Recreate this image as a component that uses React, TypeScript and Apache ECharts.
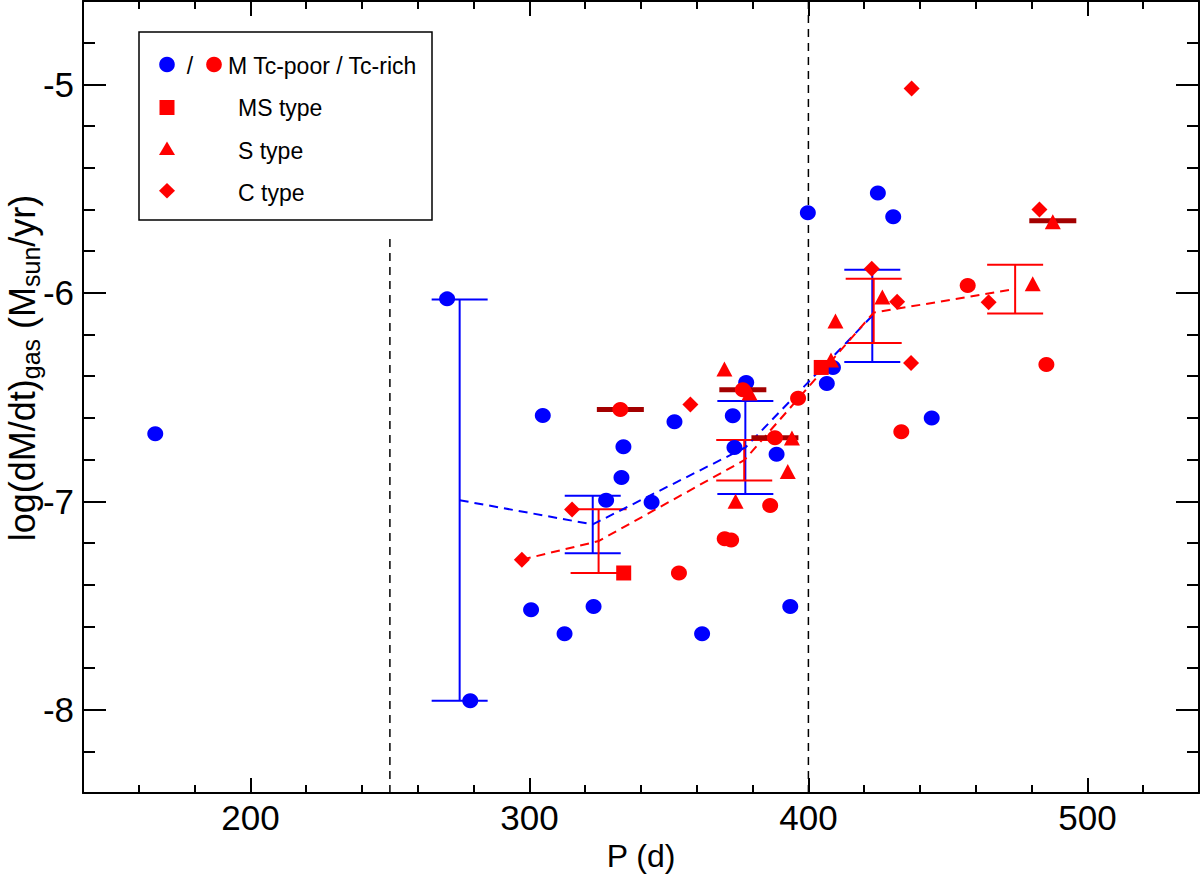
import React, { useEffect, useRef } from "react";
import * as echarts from "echarts";

const FONT = "'Liberation Sans', Arial, Helvetica, sans-serif";

// axis ticks
const X_MAJOR = [200, 300, 400, 500];
const X_MINOR = [160, 180, 220, 240, 260, 280, 320, 340, 360, 380, 420, 440, 460, 480, 520];
const Y_MAJOR = [-8, -7, -6, -5];
const Y_MINOR = [-8.2, -7.8, -7.6, -7.4, -7.2, -6.8, -6.6, -6.4, -6.2, -5.8, -5.6, -5.4, -5.2, -4.8];

// M Tc-poor (blue circles)
const TC_POOR: number[][] = [
  [165.9, -6.676], [270.5, -6.029], [278.8, -7.957], [300.6, -7.52], [304.8, -6.589],
  [312.6, -7.635], [323.0, -7.505], [327.5, -6.995], [333.0, -6.886], [333.7, -6.738],
  [343.8, -7.005], [352.0, -6.619], [361.9, -7.635], [372.9, -6.59], [373.5, -6.742],
  [377.7, -6.43], [388.6, -6.774], [393.5, -7.505], [399.8, -5.616], [406.6, -6.435],
  [408.8, -6.358], [424.9, -5.521], [430.4, -5.635], [444.2, -6.6],
];
// M Tc-rich (red circles)
const TC_RICH: number[][] = [
  [332.6, -6.56], [353.6, -7.344], [370.0, -7.18], [372.3, -7.186], [376.5, -6.465],
  [386.3, -7.02], [388.0, -6.695], [396.3, -6.506], [433.3, -6.667], [457.1, -5.965],
  [485.3, -6.344],
];
const MS_TYPE: number[][] = [[333.8, -7.344], [404.6, -6.358]];
const S_TYPE: number[][] = [
  [369.9, -6.365], [373.9, -7.0], [378.9, -6.48], [392.6, -6.857], [394.1, -6.696],
  [408.1, -6.322], [409.7, -6.135], [426.5, -6.02], [480.4, -5.957], [487.6, -5.659],
];
const C_TYPE: number[][] = [
  [297.3, -7.28], [315.3, -7.04], [357.7, -6.536], [422.7, -5.884], [431.8, -6.043],
  [436.8, -6.337], [437.0, -5.02], [464.6, -6.045], [482.8, -5.6],
];
// dark red dashes marking particular stars
const DARK_MARKS: number[][] = [[332.6, -6.56], [376.5, -6.465], [388.0, -6.695], [487.6, -5.654]];

// binned means with error bars: [P, low, high]
const ERR_BLUE: number[][] = [
  [275.0, -7.957, -6.032], [322.7, -7.249, -6.973], [377.4, -6.965, -6.519], [422.9, -6.332, -5.889],
];
const ERR_RED: number[][] = [
  [324.8, -7.344, -7.038], [377.0, -6.9, -6.706], [423.4, -6.241, -5.932], [474.1, -6.099, -5.865],
];
const MEAN_BLUE: number[][] = [[275.0, -6.995], [322.7, -7.111], [377.4, -6.742], [422.9, -6.11]];
const MEAN_RED: number[][] = [[297.3, -7.28], [324.8, -7.191], [377.0, -6.803], [423.4, -6.095], [474.1, -5.982]];

// vertical dashed guide lines
const VLINE_250: number[][] = [[250, -8.4], [250, -5.72]];
const VLINE_400: number[][] = [[400, -8.4], [400, -4.6]];

const BLUE = "#0000ff";
const RED = "#ff0000";
const DARK = "#a30000";

function errRender(color: string) {
  const CAP = 28;
  return (params: any, api: any) => {
    const x = api.value(0);
    const lo = api.value(1);
    const hi = api.value(2);
    const a = api.coord([x, lo]);
    const b = api.coord([x, hi]);
    const st = { stroke: color, lineWidth: 2 };
    return {
      type: "group",
      children: [
        { type: "line", shape: { x1: a[0], y1: a[1], x2: b[0], y2: b[1] }, style: st },
        { type: "line", shape: { x1: a[0] - CAP, y1: a[1], x2: a[0] + CAP, y2: a[1] }, style: st },
        { type: "line", shape: { x1: b[0] - CAP, y1: b[1], x2: b[0] + CAP, y2: b[1] }, style: st },
      ],
    };
  };
}

function xAx(position: string, ticks: number[], len: number, main: boolean) {
  const ax: any = {
    type: "value",
    min: 140,
    max: 540,
    position,
    axisLine: { show: main, onZero: false, lineStyle: { color: "#000", width: 2 } },
    axisTick: { show: true, inside: true, length: len, customValues: ticks, lineStyle: { color: "#000", width: 2 } },
    axisLabel: { show: false },
    splitLine: { show: false },
  };
  return ax;
}
function yAx(position: string, ticks: number[], len: number, main: boolean) {
  const ax: any = {
    type: "value",
    min: -8.4,
    max: -4.6,
    position,
    axisLine: { show: main, onZero: false, lineStyle: { color: "#000", width: 2 } },
    axisTick: { show: true, inside: true, length: len, customValues: ticks, lineStyle: { color: "#000", width: 2 } },
    axisLabel: { show: false },
    splitLine: { show: false },
  };
  return ax;
}

export default function App() {
  const ref = useRef<HTMLDivElement>(null);
  useEffect(() => {
    const chart = echarts.init(ref.current as HTMLDivElement, null, { renderer: "svg" });

    const xMain = xAx("bottom", X_MAJOR, 15, true);
    xMain.axisLabel = { show: true, customValues: X_MAJOR, fontSize: 35, color: "#000", fontFamily: FONT, margin: 7 };
    xMain.name = "P (d)";
    xMain.nameLocation = "middle";
    xMain.nameGap = 59;
    xMain.nameTextStyle = { fontSize: 32, color: "#000", fontFamily: FONT, verticalAlign: "middle" };

    const yMain = yAx("left", Y_MAJOR, 23, true);
    yMain.axisLabel = { show: true, customValues: Y_MAJOR, fontSize: 35, color: "#000", fontFamily: FONT, margin: 9 };

    const sym = (name: string, data: number[][], symbol: string, size: any, color: string, z: number) => ({
      name,
      type: "scatter",
      data,
      symbol,
      symbolSize: size,
      itemStyle: { color, opacity: 1 },
      z,
      silent: true,
    });

    const option: any = {
      animation: false,
      backgroundColor: "#fff",
      grid: { left: 83, right: 1, top: 1, bottom: 79, containLabel: false },
      xAxis: [
        xMain,
        xAx("bottom", X_MINOR, 8, false),
        xAx("top", X_MAJOR, 15, true),
        xAx("top", X_MINOR, 8, false),
      ],
      yAxis: [
        yMain,
        yAx("left", Y_MINOR, 12, false),
        yAx("right", Y_MAJOR, 23, true),
        yAx("right", Y_MINOR, 12, false),
      ],
      series: [
        {
          type: "line", data: VLINE_250, symbol: "none", silent: true, z: 1,
          lineStyle: { color: "#000", width: 1.5, type: [8, 6] },
        },
        {
          type: "line", data: VLINE_400, symbol: "none", silent: true, z: 1,
          lineStyle: { color: "#000", width: 1.5, type: [8, 6] },
        },
        {
          type: "line", data: MEAN_BLUE, symbol: "none", silent: true, z: 2,
          lineStyle: { color: BLUE, width: 2, type: [9, 6] },
        },
        {
          type: "line", data: MEAN_RED, symbol: "none", silent: true, z: 2,
          lineStyle: { color: RED, width: 2, type: [9, 6] },
        },
        { type: "custom", data: ERR_BLUE, renderItem: errRender(BLUE), encode: { x: 0, y: [1, 2] }, z: 2, silent: true },
        { type: "custom", data: ERR_RED, renderItem: errRender(RED), encode: { x: 0, y: [1, 2] }, z: 2, silent: true },
        sym("Tc-poor", TC_POOR, "circle", [16, 15], BLUE, 3),
        sym("marks", DARK_MARKS, "rect", [47, 5], DARK, 4),
        sym("Tc-rich", TC_RICH, "circle", [16, 15], RED, 5),
        sym("MS type", MS_TYPE, "rect", 15, RED, 5),
        sym("S type", S_TYPE, "triangle", [16, 15], RED, 5),
        sym("C type", C_TYPE, "diamond", 16, RED, 5),
      ],
      graphic: [
        {
          type: "text",
          x: 22,
          y: 368,
          rotation: Math.PI / 2,
          style: {
            text: "{m|log(dM/dt)}{s|gas}{m| (M}{s|sun}{m|/yr)}",
            align: "center",
            verticalAlign: "middle",
            rich: {
              m: { fontSize: 36, fontFamily: FONT, fill: "#000", lineHeight: 42, verticalAlign: "middle" },
              s: { fontSize: 25, fontFamily: FONT, fill: "#000", lineHeight: 16, verticalAlign: "bottom" },
            },
          },
          z: 10,
        },
        {
          type: "group",
          z: 10,
          children: [
            { type: "rect", shape: { x: 139, y: 32, width: 293, height: 188 }, style: { fill: "#fff", stroke: "#000", lineWidth: 1.5 } },
            { type: "circle", shape: { cx: 167, cy: 64.5, r: 7.8 }, style: { fill: BLUE } },
            { type: "text", x: 190, y: 66, style: { text: "/", fontSize: 23, fontFamily: FONT, fill: "#000", align: "center", verticalAlign: "middle" } },
            { type: "circle", shape: { cx: 214, cy: 64.5, r: 7.8 }, style: { fill: RED } },
            { type: "text", x: 228, y: 66, style: { text: "M Tc-poor / Tc-rich", fontSize: 23, fontFamily: FONT, fill: "#000", align: "left", verticalAlign: "middle" } },
            { type: "rect", shape: { x: 159.5, y: 100, width: 15, height: 15 }, style: { fill: RED } },
            { type: "text", x: 238, y: 108, style: { text: "MS type", fontSize: 23, fontFamily: FONT, fill: "#000", align: "left", verticalAlign: "middle" } },
            { type: "polygon", shape: { points: [[167, 141.5], [175, 155], [159, 155]] }, style: { fill: RED } },
            { type: "text", x: 238, y: 151, style: { text: "S type", fontSize: 23, fontFamily: FONT, fill: "#000", align: "left", verticalAlign: "middle" } },
            { type: "polygon", shape: { points: [[167, 183], [175, 190.7], [167, 198.4], [159, 190.7]] }, style: { fill: RED } },
            { type: "text", x: 238, y: 193, style: { text: "C type", fontSize: 23, fontFamily: FONT, fill: "#000", align: "left", verticalAlign: "middle" } },
          ],
        },
      ],
    };
    chart.setOption(option);
    return () => chart.dispose();
  }, []);
  return (
    <div
      ref={ref}
      style={{ position: "absolute", left: 0, top: 0, width: 1200, height: 877, background: "#fff" }}
    />
  );
}
